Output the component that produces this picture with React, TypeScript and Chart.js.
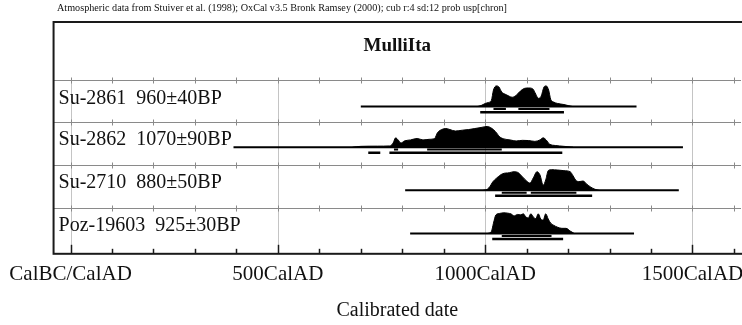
import React, { useEffect, useRef } from 'react';
import { Chart, registerables } from 'chart.js';
Chart.register(...registerables);

const caption = 'Atmospheric data from Stuiver et al. (1998); OxCal v3.5 Bronk Ramsey (2000); cub r:4 sd:12 prob usp[chron]';
const plotTitle = 'MulliIta';
const axisTitle = 'Calibrated date';
const tickValues = [0, 500, 1000, 1500];
const tickLabels = ['CalBC/CalAD', '500CalAD', '1000CalAD', '1500CalAD'];
const minorTickValues = [0, 100, 200, 300, 400, 500, 600, 700, 800, 900, 1000, 1100, 1200, 1300, 1400, 1500, 1600];

const sampleLabels = ['Su-2861  960±40BP', 'Su-2862  1070±90BP', 'Su-2710  880±50BP', 'Poz-19603  925±30BP'];
const calExtents = [[700, 1365], [393, 1477], [807, 1467], [819, 1359]];

const su2861Years = [980, 990, 1000, 1008, 1015, 1020, 1027, 1033, 1040, 1048, 1058, 1065, 1075, 1085, 1095, 1105, 1115, 1122, 1128, 1135, 1142, 1147, 1153, 1158, 1165, 1175, 1190, 1200, 1212];
const su2861Prob = [0, 0.05, 0.15, 0.2, 0.3, 0.8, 1.0, 0.95, 0.7, 0.6, 0.5, 0.45, 0.55, 0.75, 0.88, 0.9, 0.85, 0.6, 0.4, 0.5, 0.95, 1.0, 0.8, 0.35, 0.22, 0.15, 0.1, 0.05, 0];

const su2862Years = [680, 700, 740, 770, 778, 784, 790, 797, 805, 820, 836, 850, 865, 878, 885, 895, 905, 915, 928, 945, 960, 975, 990, 1005, 1015, 1025, 1035, 1045, 1060, 1075, 1090, 1105, 1120, 1132, 1140, 1147, 1155, 1170, 1190, 1212];
const su2862Prob = [0, 0.04, 0.05, 0.06, 0.2, 0.45, 0.35, 0.2, 0.3, 0.35, 0.42, 0.35, 0.38, 0.42, 0.7, 0.85, 0.9, 0.85, 0.78, 0.82, 0.85, 0.9, 0.95, 1.0, 0.92, 0.75, 0.5, 0.4, 0.35, 0.3, 0.33, 0.32, 0.28, 0.35, 0.45, 0.35, 0.15, 0.08, 0.04, 0];

const su2710Years = [995, 1005, 1012, 1018, 1028, 1042, 1058, 1070, 1080, 1090, 1100, 1108, 1116, 1125, 1132, 1140, 1146, 1152, 1160, 1175, 1190, 1205, 1212, 1218, 1226, 1236, 1245, 1255, 1265, 1275];
const su2710Prob = [0, 0.05, 0.2, 0.4, 0.6, 0.8, 0.85, 0.9, 0.85, 0.65, 0.45, 0.35, 0.6, 0.9, 0.75, 0.25, 0.5, 0.95, 1.0, 0.98, 0.95, 0.9, 0.7, 0.5, 0.42, 0.45, 0.3, 0.15, 0.05, 0];

const poz19603Years = [1005, 1015, 1020, 1026, 1035, 1045, 1055, 1062, 1070, 1078, 1085, 1092, 1098, 1104, 1110, 1116, 1122, 1128, 1134, 1140, 1146, 1152, 1158, 1165, 1175, 1185, 1195, 1205, 1215];
const poz19603Prob = [0, 0.1, 0.5, 0.9, 0.97, 1.0, 0.98, 0.95, 0.85, 0.92, 0.9, 0.95, 0.8, 0.75, 0.95, 0.8, 0.72, 0.95, 0.7, 0.65, 0.95, 0.7, 0.5, 0.4, 0.3, 0.25, 0.25, 0.12, 0];

const range68 = [
  [[1020, 1050], [1080, 1155]],
  [[780, 790], [860, 1040]],
  [[1040, 1100], [1110, 1220]],
  [[1040, 1160]],
];
const range95 = [
  [[988, 1190]],
  [[718, 747], [769, 1186]],
  [[1024, 1258]],
  [[1017, 1188]],
];

const allYears = [su2861Years, su2862Years, su2710Years, poz19603Years];
const allProbs = [su2861Prob, su2862Prob, su2710Prob, poz19603Prob];

const X_MIN = -41;
const X_MAX = 1617;
const Y_MAX = 5.37;
const TOP_SEP = 4.03;
const HEIGHT = 0.48;
const FONT = '"Liberation Serif", "Times New Roman", serif';

const rowBottom = (i: number) => (i === 3 ? 0.05 : 3 - i + 0.05);
const baseOf = (i: number) => rowBottom(i) + (i === 0 ? 0.36 : 0.42);

function segData(segs: number[][], y: number) {
  const out: any[] = [];
  segs.forEach((s, k) => {
    if (k > 0) out.push({ x: (segs[k - 1][1] + s[0]) / 2, y: null });
    out.push({ x: s[0], y }, { x: s[1], y });
  });
  return out;
}

const oxcalPlugin = {
  id: 'oxcal',
  beforeDatasetsDraw(chart: any) {
    const { ctx, chartArea, scales } = chart;
    const xs = scales.x, ys = scales.y;
    ctx.save();
    ctx.strokeStyle = '#c4c4c4';
    ctx.lineWidth = 1;
    const topY = ys.getPixelForValue(TOP_SEP);
    tickValues.forEach((v) => {
      const px = Math.round(xs.getPixelForValue(v)) + 0.5;
      ctx.beginPath();
      ctx.moveTo(px, topY);
      ctx.lineTo(px, chartArea.bottom);
      ctx.stroke();
    });
    const seps = [TOP_SEP, rowBottom(0), rowBottom(1), rowBottom(2)];
    ctx.strokeStyle = '#8a8a8a';
    seps.forEach((s) => {
      const py = Math.round(ys.getPixelForValue(s)) + 0.5;
      ctx.lineWidth = 1.2;
      ctx.beginPath();
      ctx.moveTo(chartArea.left, py);
      ctx.lineTo(chartArea.right, py);
      ctx.stroke();
      ctx.lineWidth = 1;
      minorTickValues.forEach((v) => {
        const px = Math.round(xs.getPixelForValue(v)) + 0.5;
        ctx.beginPath();
        ctx.moveTo(px, py - 3);
        ctx.lineTo(px, py + 3);
        ctx.stroke();
      });
    });
    ctx.restore();
  },
  afterDatasetsDraw(chart: any) {
    const { ctx, chartArea, scales } = chart;
    const xs = scales.x;
    ctx.save();
    ctx.strokeStyle = '#1a1a1a';
    ctx.lineWidth = 2;
    ctx.strokeRect(chartArea.left, chartArea.top, chartArea.right - chartArea.left + 4, chartArea.bottom - chartArea.top);
    ctx.lineWidth = 1.5;
    minorTickValues.forEach((v) => {
      const px = Math.round(xs.getPixelForValue(v)) + 0.5;
      const len = v % 500 === 0 ? 9 : 5;
      ctx.beginPath();
      ctx.moveTo(px, chartArea.bottom);
      ctx.lineTo(px, chartArea.bottom - len);
      ctx.stroke();
    });
    ctx.restore();
  },
  afterDraw(chart: any) {
    const { ctx, chartArea, scales } = chart;
    const ys = scales.y;
    ctx.save();
    ctx.fillStyle = '#111';
    ctx.textBaseline = 'middle';
    ctx.textAlign = 'left';
    ctx.font = '10.5px ' + FONT;
    ctx.fillText(caption, 57, 8, 450);
    ctx.textAlign = 'center';
    ctx.font = 'bold 19px ' + FONT;
    ctx.fillText(plotTitle, (chartArea.left + chartArea.right) / 2, ys.getPixelForValue(4.82));
    ctx.textAlign = 'left';
    ctx.font = '20px ' + FONT;
    sampleLabels.forEach((t, i) => {
      ctx.fillText(t, chartArea.left + 5, ys.getPixelForValue(baseOf(i) + 0.18));
    });
    ctx.restore();
  },
};

export default function App() {
  const ref = useRef<HTMLCanvasElement>(null);
  useEffect(() => {
    if (!ref.current) return;
    const datasets: any[] = [];
    sampleLabels.forEach((label, i) => {
      const base = baseOf(i);
      datasets.push({
        label: label + ' extent',
        data: calExtents[i].map((x) => ({ x, y: base })),
        borderColor: '#000',
        borderWidth: 2,
        pointRadius: 0,
        fill: false,
      });
      datasets.push({
        label,
        data: allYears[i].map((x, k) => ({ x, y: base + allProbs[i][k] * HEIGHT })),
        borderColor: '#000',
        borderWidth: 1,
        backgroundColor: '#000',
        pointRadius: 0,
        cubicInterpolationMode: 'monotone',
        fill: { value: base },
      });
      datasets.push({
        label: label + ' 68%',
        data: segData(range68[i], base - 0.055),
        borderColor: '#000',
        borderWidth: 2,
        pointRadius: 0,
        spanGaps: false,
        fill: false,
      });
      datasets.push({
        label: label + ' 95%',
        data: segData(range95[i], base - 0.128),
        borderColor: '#000',
        borderWidth: 2.5,
        pointRadius: 0,
        spanGaps: false,
        fill: false,
      });
    });
    const chart = new Chart(ref.current, {
      type: 'line',
      data: { datasets },
      options: {
        responsive: false,
        animation: false,
        devicePixelRatio: 1,
        layout: { padding: { left: 53, right: 1, top: 22, bottom: 2 } },
        plugins: { legend: { display: false }, tooltip: { enabled: false } },
        scales: {
          x: {
            type: 'linear',
            min: X_MIN,
            max: X_MAX,
            afterBuildTicks: (scale: any) => {
              scale.ticks = minorTickValues.map((v) => ({ value: v }));
            },
            grid: { display: false, drawTicks: false },
            border: { display: false },
            ticks: {
              autoSkip: false,
              maxRotation: 0,
              padding: 8,
              color: '#111',
              font: { family: FONT, size: 21 },
              callback: (v: any) => {
                const idx = tickValues.indexOf(Number(v));
                return idx >= 0 ? tickLabels[idx] : '';
              },
            },
            title: {
              display: true,
              text: axisTitle,
              color: '#111',
              font: { family: FONT, size: 20 },
              padding: { top: 4, bottom: 0 },
            },
          },
          y: { type: 'linear', min: 0, max: Y_MAX, display: false },
        },
      },
      plugins: [oxcalPlugin],
    } as any);
    return () => chart.destroy();
  }, []);
  return (
    <div style={{ position: 'fixed', left: 0, top: 0, width: 742, height: 325, background: '#fff' }}>
      <canvas ref={ref} width={742} height={325} style={{ display: 'block' }} />
    </div>
  );
}
